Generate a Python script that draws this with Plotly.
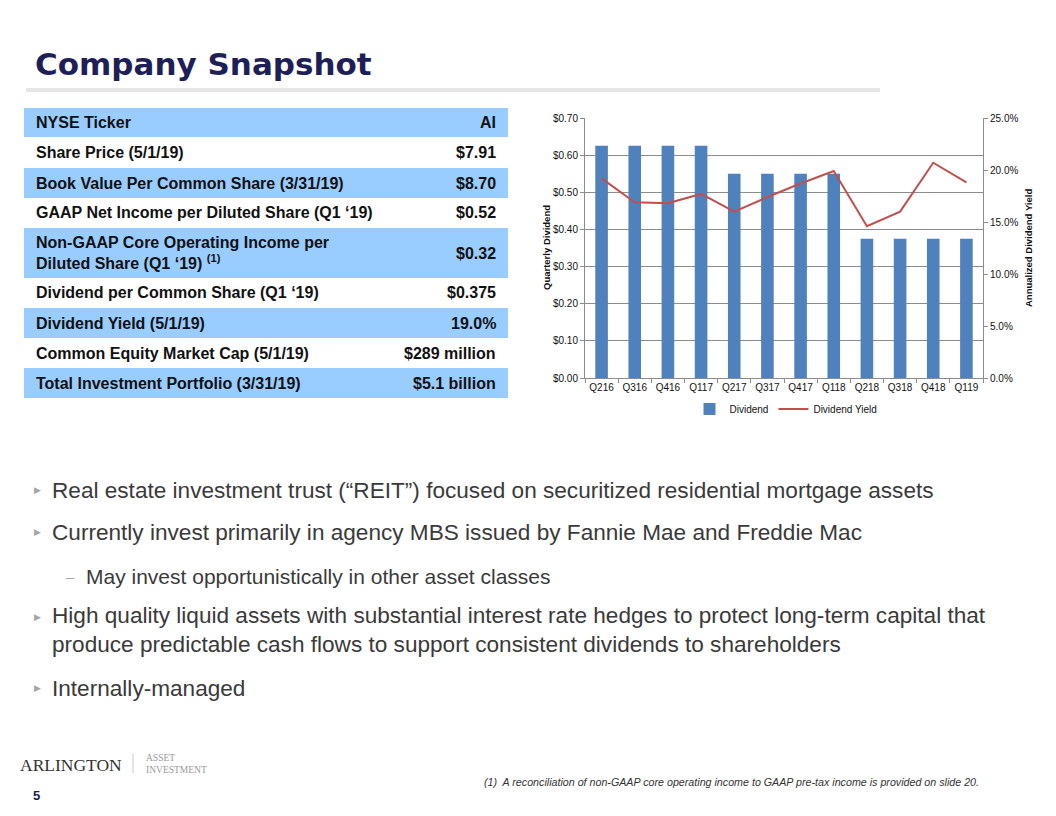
import plotly.graph_objects as go

# page is 1056x816; the html body has an 8px margin, so the figure is made 16px smaller
PAGE_OFF = 8
W, H = 1040, 800

# ---------------- data ----------------
quarters = ["Q216", "Q316", "Q416", "Q117", "Q217", "Q317", "Q417", "Q118",
            "Q218", "Q318", "Q418", "Q119"]
dividend = [0.625, 0.625, 0.625, 0.625, 0.55, 0.55, 0.55, 0.55,
            0.375, 0.375, 0.375, 0.375]
dividend_yield = [0.192, 0.169, 0.168, 0.177, 0.160, 0.174, 0.187, 0.199,
                  0.146, 0.160, 0.207, 0.188]

table_labels = [
    "NYSE Ticker",
    "Share Price (5/1/19)",
    "Book Value Per Common Share (3/31/19)",
    "GAAP Net Income per Diluted Share (Q1 \u201819)",
    "Non-GAAP Core Operating Income per<br>Diluted Share (Q1 \u201819) <sup>(1)</sup>",
    "Dividend per Common Share (Q1 \u201819)",
    "Dividend Yield (5/1/19)",
    "Common Equity Market Cap (5/1/19)",
    "Total Investment Portfolio (3/31/19)",
]
table_values = ["AI", "$7.91", "$8.70", "$0.52", "$0.32", "$0.375", "19.0%",
                "$289 million", "$5.1 billion"]

bullets = [
    (0, "Real estate investment trust (\u201cREIT\u201d) focused on securitized residential mortgage assets"),
    (0, "Currently invest primarily in agency MBS issued by Fannie Mae and Freddie Mac"),
    (1, "May invest opportunistically in other asset classes"),
    (0, "High quality liquid assets with substantial interest rate hedges to protect long-term capital that<br>"
        "produce predictable cash flows to support consistent dividends to shareholders"),
    (0, "Internally-managed"),
]

footnote = "(1)  A reconciliation of non-GAAP core operating income to GAAP pre-tax income is provided on slide 20."

# ---------------- helpers (page pixel -> paper) ----------------
def px(x):
    return (x - PAGE_OFF) / W

def py(y):
    return 1 - (y - PAGE_OFF) / H

FONT = "Arial, Liberation Sans, sans-serif"
NAVY = "#1f1f57"
BAR = "#4f81bd"
LINE = "#c0504d"
GRID = "#8c8c8c"
TXT = "#111111"

fig = go.Figure()

fig.add_trace(go.Bar(
    x=quarters, y=dividend, name="Dividend", marker_color=BAR,
    marker_line_width=0, yaxis="y",
))
fig.add_trace(go.Scatter(
    x=quarters, y=dividend_yield, name="Dividend Yield", mode="lines",
    line=dict(color=LINE, width=2), yaxis="y2",
))

shapes = []
annotations = []

def note(text, x, y, size, color=TXT, family=FONT, xanchor="left", align="left", **kw):
    annotations.append(dict(text=text, x=px(x), y=py(y), xref="paper", yref="paper",
                            xanchor=xanchor, yanchor="middle", align=align, showarrow=False,
                            font=dict(family=family, size=size, color=color), **kw))

# title + underline
shapes.append(dict(type="rect", xref="paper", yref="paper",
                   x0=px(26), x1=px(880), y0=py(92), y1=py(88),
                   fillcolor="#e6e6e6", line_width=0, layer="below"))
note("<b>Company Snapshot</b>", 33, 64, 31, color=NAVY,
     family="DejaVu Sans, Arial Black, sans-serif")

# table
row_edges = [108, 137, 168, 198, 228, 278, 308, 338, 368, 398]
for i, (lab, val) in enumerate(zip(table_labels, table_values)):
    y0, y1 = row_edges[i], row_edges[i + 1]
    if i % 2 == 0:
        shapes.append(dict(type="rect", xref="paper", yref="paper",
                           x0=px(24), x1=px(508), y0=py(y1), y1=py(y0),
                           fillcolor="#99ccff", line_width=0, layer="below"))
    yc = (y0 + y1) / 2
    note("<b>%s</b>" % lab, 34, yc, 16)
    note("<b>%s</b>" % val, 498, yc, 16, xanchor="right", align="right")

# bullets
bullet_y = [490, 532, 576, 630, 688]
for (lvl, txt), yc in zip(bullets, bullet_y):
    nlines = txt.count("<br>") + 1
    ytop = yc if nlines == 1 else yc - 13
    if lvl == 0:
        note("\u25b6", 37, ytop, 9, color="#a6a6a6", family="DejaVu Sans", xanchor="center")
        note(txt, 50, yc, 22.6, color="#3a3a3a")
    else:
        note("\u2013", 70, yc, 15, color="#a6a6a6", xanchor="center")
        note(txt, 84, yc, 21, color="#3a3a3a")

# logo and page number
SERIF = "Liberation Serif, Times New Roman, serif"
note("ARLINGTON", 18, 765, 17.5, color="#333333", family=SERIF)
shapes.append(dict(type="line", xref="paper", yref="paper", x0=px(133), x1=px(133),
                   y0=py(773), y1=py(754), line=dict(color="#c8c8c8", width=1)))
note("ASSET<br>INVESTMENT", 144, 764, 9.5, color="#9a9a9a", family=SERIF)
note("<b>5</b>", 36, 795, 13, color=NAVY, xanchor="center")

# footnote
note("<i>%s</i>" % footnote, 482, 782, 10.7, color="#333333",
     family="Liberation Sans Narrow, Arial Narrow, Arial, sans-serif")

# axis titles
note("<b>Quarterly Dividend</b>", 546, 248, 9.5, xanchor="center", textangle=-90)
note("<b>Annualized Dividend Yield</b>", 1028, 248, 9.5, xanchor="center", textangle=-90)

fig.update_layout(
    width=W, height=H,
    margin=dict(l=0, r=0, t=0, b=0, autoexpand=False),
    paper_bgcolor="white", plot_bgcolor="white",
    font=dict(family=FONT, size=10, color=TXT),
    bargap=0.62,
    showlegend=True,
    legend=dict(orientation="h", x=px(786), y=py(409), xanchor="center", yanchor="middle",
                font=dict(family=FONT, size=10, color=TXT), bgcolor="rgba(0,0,0,0)",
                itemwidth=30),
    xaxis=dict(domain=[px(585), px(983)], type="category", showgrid=False,
               showline=True, linecolor=GRID, linewidth=1, tickangle=0,
               ticks="outside", ticklen=4, tickcolor=GRID, tickson="boundaries",
               tickfont=dict(family=FONT, size=10, color=TXT), anchor="y", automargin=False),
    yaxis=dict(domain=[py(378), py(118)], range=[0, 0.7], dtick=0.1, tick0=0,
               tickprefix="$", tickformat=".2f", showgrid=True, gridcolor=GRID, gridwidth=1,
               showline=True, linecolor=GRID, linewidth=1, ticks="outside", ticklen=4,
               tickcolor=GRID, zeroline=False, automargin=False,
               tickfont=dict(family=FONT, size=10, color=TXT)),
    yaxis2=dict(overlaying="y", side="right", range=[0, 0.25], dtick=0.05, tick0=0,
                tickformat=".1%", showgrid=False, showline=True, linecolor=GRID, linewidth=1,
                ticks="outside", ticklen=4, tickcolor=GRID, zeroline=False, anchor="x",
                automargin=False, tickfont=dict(family=FONT, size=10, color=TXT)),
    shapes=shapes,
    annotations=annotations,
)

fig.write_html("out.html")
